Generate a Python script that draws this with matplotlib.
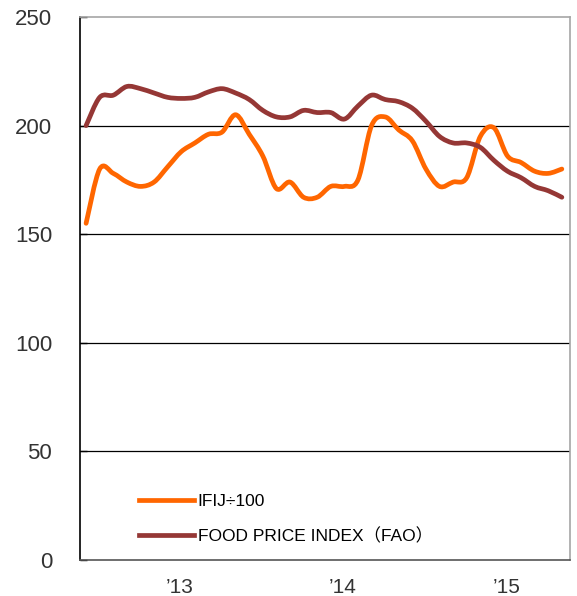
import numpy as np
import matplotlib.pyplot as plt
from matplotlib.path import Path
from matplotlib.patches import PathPatch
from matplotlib.lines import Line2D

plt.rcParams['font.family'] = ['Liberation Sans', 'Noto Sans CJK JP', 'DejaVu Sans']

# monthly values, first point = Jun 2012
ifij = [155, 180, 178, 174, 172, 174, 181, 188, 192, 196, 197, 205,
        196, 186, 171, 174, 167, 167, 172, 172, 175, 200, 204, 198,
        193, 180, 172, 174, 176, 195, 199, 186, 183, 179, 178, 180]
fao = [200, 213, 214, 218, 217, 215, 213, 212.5, 213, 215.5, 217, 215,
       212, 207, 204, 204, 207, 206, 206, 203, 209, 214, 212, 211,
       208, 202, 195, 192, 192, 190, 184, 179, 176, 172, 170, 167]
year_labels = ["\u201913", "\u201914", "\u201915"]
year_pos = [6.9, 18.9, 30.9]
y_ticks = [0, 50, 100, 150, 200, 250]

c_ifij = '#FF6600'
c_fao = '#953735'


def smooth_path(y):
    # excel-like smoothed line: cubic bezier through every point
    p = np.column_stack([np.arange(len(y)), y]).astype(float)
    verts = [p[0]]
    codes = [Path.MOVETO]
    n = len(p)
    for i in range(n - 1):
        p0 = p[i - 1] if i > 0 else p[i]
        p1, p2 = p[i], p[i + 1]
        p3 = p[i + 2] if i + 2 < n else p[i + 1]
        verts += [p1 + (p2 - p0) / 6, p2 - (p3 - p1) / 6, p2]
        codes += [Path.CURVE4] * 3
    return Path(verts, codes)


fig = plt.figure(figsize=(5.77, 5.96), dpi=100)
ax = fig.add_axes([0.1386, 0.0604, 0.8493, 0.9111])

for yv in [50, 100, 150, 200]:
    ax.axhline(yv, color='black', lw=0.9, zorder=1)

for data, col in [(ifij, c_ifij), (fao, c_fao)]:
    ax.add_patch(PathPatch(smooth_path(data), fill=False, edgecolor=col,
                           lw=3.4, capstyle='round', joinstyle='round', zorder=3))

ax.set_xlim(-0.45, 35.6)
ax.set_ylim(0, 250)
ax.set_yticks(y_ticks)
ax.set_yticklabels([str(v) for v in y_ticks], fontsize=16, color='#333333')
ax.tick_params(axis='y', direction='in', length=5, width=1, pad=20)
ax.set_xticks(year_pos)
ax.set_xticklabels(year_labels, fontsize=15, color='#333333')
ax.tick_params(axis='x', length=0, pad=13)

for s in ['top', 'right']:
    ax.spines[s].set_color('#A6A6A6')
ax.spines['bottom'].set_color('#555555')
ax.spines['left'].set_color('black')
for s in ax.spines.values():
    s.set_linewidth(1.2)

handles = [Line2D([], [], color=c_ifij, lw=3.4),
           Line2D([], [], color=c_fao, lw=3.4)]
ax.legend(handles, ['IFIJ\u00f7100', 'FOOD PRICE INDEX\uff08FAO\uff09'],
          loc='lower left', bbox_to_anchor=(0.088, 0.0), frameon=False,
          fontsize=12.5, handlelength=3.2, handletextpad=0.2, labelspacing=1.07)

fig.savefig('out.png', dpi=100)
